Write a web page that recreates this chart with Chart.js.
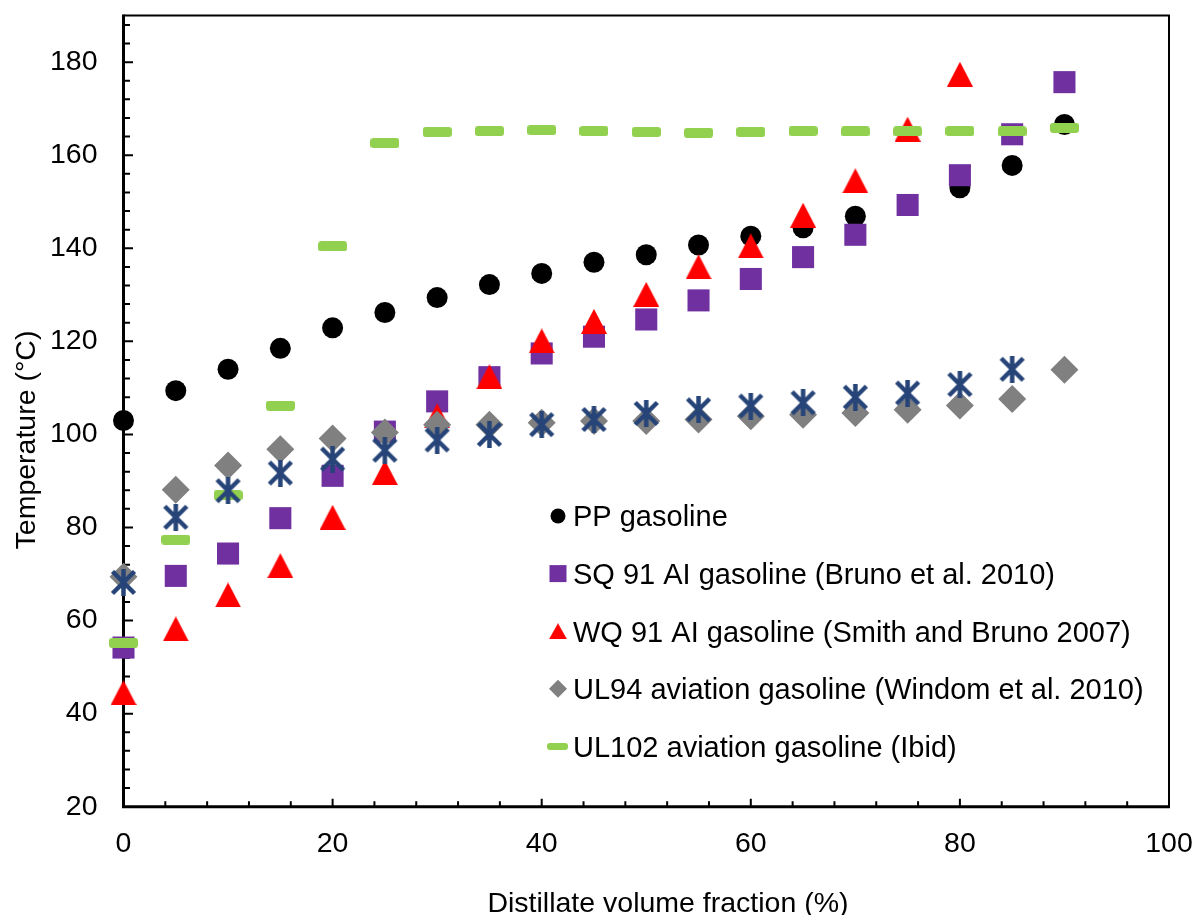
<!DOCTYPE html>
<html>
<head>
<meta charset="utf-8">
<script src="https://cdn.jsdelivr.net/npm/chart.js@4.4.1/dist/chart.umd.min.js"></script>
<style>
html,body{margin:0;padding:0;background:#fff;}
#wrap{width:1197px;height:915px;position:relative;}
</style>
</head>
<body>
<div id="wrap"><canvas id="c" width="1197" height="915"></canvas></div>
<script>
// ---------- data ----------
const xFractions = [0,5,10,15,20,25,30,35,40,45,50,55,60,65,70,75,80,85,90];
const ppGasoline = [103.0,109.4,114.0,118.5,122.9,126.2,129.4,132.2,134.6,137.0,138.6,140.7,142.6,144.4,146.9,149.3,153.0,157.8,166.6];
const sq91Gasoline = [54.2,69.6,74.4,82.0,91.1,100.6,107.1,112.3,117.4,121.0,124.7,128.8,133.4,138.1,142.9,149.3,155.7,164.5,175.7];
const wq91Gasoline = [44.5,58.2,65.5,71.8,82.2,91.8,104.0,112.4,120.1,124.3,130.1,136.0,140.5,147.1,154.5,165.6,177.4];
const ul94Aviation = [69.4,88.1,93.3,96.8,99.1,100.4,102.1,102.1,102.5,102.9,102.9,103.2,103.9,104.2,104.6,105.3,106.2,107.6,113.9];
const ul102Aviation = [55.2,77.4,86.9,106.2,140.4,162.6,165.0,165.2,165.4,165.2,165.0,164.8,165.0,165.2,165.1,165.1,165.2,165.1,165.9];
const unlabelledSeries = [68.2,82.2,87.9,91.7,94.7,96.6,98.8,100.0,102.1,103.2,104.5,105.3,106.1,106.8,108.0,108.9,110.7,114.0];
const seriesLabels = ['PP gasoline','SQ 91 AI gasoline (Bruno et al. 2010)','WQ 91 AI gasoline (Smith and Bruno 2007)','UL94 aviation gasoline (Windom et al. 2010)','UL102 aviation gasoline (Ibid)'];
const xTickValues = [0,20,40,60,80,100];
const yTickValues = [20,40,60,80,100,120,140,160,180];
const xTitle = 'Distillate volume fraction (%)';
const yTitle = 'Temperature (°C)';

const FONT = '"Liberation Sans", Arial, Helvetica, sans-serif';
const COLORS = {pp:'#000000', sq:'#7030A0', wq:'#FF0000', ul94:'#808080', ul102:'#92D050', star:'#264478'};

function pts(xs, ys){ return ys.map((v,i)=>({x:xs[i], y:v})); }

// ---------- marker images ----------
function triangleImg(w,h,color){
  const c=document.createElement('canvas'); c.width=w; c.height=h;
  const g=c.getContext('2d'); g.fillStyle=color; g.beginPath();
  g.moveTo(w/2,0); g.lineTo(w,h); g.lineTo(0,h); g.closePath(); g.fill(); return c;
}
function dashImg(w,h,color){
  const c=document.createElement('canvas'); c.width=w; c.height=h;
  const g=c.getContext('2d'); g.fillStyle=color; g.beginPath();
  const r=Math.min(3,h/2);
  g.moveTo(r,0); g.lineTo(w-r,0); g.arcTo(w,0,w,r,r); g.lineTo(w,h-r); g.arcTo(w,h,w-r,h,r);
  g.lineTo(r,h); g.arcTo(0,h,0,h-r,r); g.lineTo(0,r); g.arcTo(0,0,r,0,r); g.closePath(); g.fill(); return c;
}
function starImg(s,color,lw){
  const c=document.createElement('canvas'); c.width=s; c.height=s;
  const g=c.getContext('2d'); g.strokeStyle=color; g.lineWidth=lw; g.lineCap='butt';
  const p=lw*0.55;
  g.beginPath();
  g.moveTo(s/2,0); g.lineTo(s/2,s);
  g.moveTo(p,p); g.lineTo(s-p,s-p);
  g.moveTo(s-p,p); g.lineTo(p,s-p);
  g.stroke(); return c;
}
const triMarker = triangleImg(26,25,COLORS.wq);
const dashMarker = dashImg(29,10,COLORS.ul102);
const starMarker = starImg(27,COLORS.star,4.5);

// ---------- plugins ----------
const axesFrame = {
  id:'axesFrame',
  beforeDatasetsDraw(chart){
    const {ctx, chartArea:{left,right,top,bottom}, scales:{x,y}} = chart;
    ctx.save();
    ctx.strokeStyle='#000';
    ctx.lineWidth=2;
    ctx.beginPath();
    for(let v=24; v<190; v+=4){
      const py=y.getPixelForValue(v);
      const len = (v%20===0)?9.5:6.5;
      ctx.moveTo(left, py); ctx.lineTo(left+len, py);
    }
    for(let v=4; v<100; v+=4){
      const px=x.getPixelForValue(v);
      const len = (v%20===0)?8:5.5;
      ctx.moveTo(px, bottom); ctx.lineTo(px, bottom-len);
    }
    ctx.stroke();
    // top + right frame
    ctx.lineWidth=2;
    ctx.beginPath();
    ctx.moveTo(left, top); ctx.lineTo(right, top); ctx.lineTo(right, bottom);
    ctx.stroke();
    // left + bottom axes
    ctx.lineWidth=3;
    ctx.beginPath();
    ctx.moveTo(left, top-1); ctx.lineTo(left, bottom); ctx.lineTo(right+1, bottom);
    ctx.stroke();
    ctx.restore();
  },
  afterDraw(chart){
    const ctx=chart.ctx;
    ctx.save();
    ctx.fillStyle='#000';
    ctx.font='28.5px '+FONT;
    ctx.textAlign='center';
    ctx.textBaseline='alphabetic';
    ctx.fillText(xTitle, 668, 911.5);
    ctx.translate(35, 440);
    ctx.rotate(-Math.PI/2);
    ctx.fillText(yTitle, 0, 0);
    ctx.restore();

    // legend
    ctx.save();
    ctx.font='29px '+FONT;
    ctx.fillStyle='#000';
    ctx.textAlign='left';
    ctx.textBaseline='alphabetic';
    const mx=558, tx=573;
    seriesLabels.forEach((lab,i)=>{
      const cy = 516 + i*57.6;
      ctx.save();
      if(i===0){ ctx.fillStyle=COLORS.pp; ctx.beginPath(); ctx.arc(mx,cy,7.5,0,Math.PI*2); ctx.fill(); }
      if(i===1){ ctx.fillStyle=COLORS.sq; ctx.fillRect(mx-8.5,cy-8.5,17,17); }
      if(i===2){ ctx.drawImage(triangleImg(18,16,COLORS.wq), mx-9, cy-8); }
      if(i===3){ ctx.fillStyle=COLORS.ul94; ctx.beginPath(); ctx.moveTo(mx-9,cy); ctx.lineTo(mx,cy-9); ctx.lineTo(mx+9,cy); ctx.lineTo(mx,cy+9); ctx.closePath(); ctx.fill(); }
      if(i===4){ ctx.drawImage(dashImg(21,7,COLORS.ul102), mx-11, cy-3.5); }
      ctx.restore();
      ctx.fillText(lab, tx, cy+10.3);
    });
    ctx.restore();
  }
};

// ---------- chart ----------
const ds = (label, xs, ys, extra) => Object.assign({
  label, data: pts(xs, ys), showLine:false, clip:false, borderWidth:0
}, extra);

new Chart(document.getElementById('c'), {
  type:'scatter',
  data:{
    datasets:[
      ds(seriesLabels[0], xFractions, ppGasoline, {order:6, pointStyle:'circle', pointRadius:10.5, backgroundColor:COLORS.pp, borderColor:COLORS.pp}),
      ds(seriesLabels[1], xFractions, sq91Gasoline, {order:5, pointStyle:'rect', pointRadius:15.6, backgroundColor:COLORS.sq, borderColor:COLORS.sq}),
      ds(seriesLabels[2], xFractions, wq91Gasoline, {order:4, pointStyle:triMarker, pointRadius:13, backgroundColor:COLORS.wq}),
      ds(seriesLabels[3], xFractions, ul94Aviation, {order:3, pointStyle:'rectRot', pointRadius:14, backgroundColor:COLORS.ul94, borderColor:COLORS.ul94}),
      ds(seriesLabels[4], xFractions, ul102Aviation, {order:2, pointStyle:dashMarker, pointRadius:14, backgroundColor:COLORS.ul102}),
      ds('Unlabelled series', xFractions, unlabelledSeries, {order:1, pointStyle:starMarker, pointRadius:13, backgroundColor:COLORS.star})
    ]
  },
  options:{
    responsive:false,
    animation:false,
    events:[],
    devicePixelRatio:1,
    layout:{padding:{left:0, top:10, right:28, bottom:0}},
    plugins:{legend:{display:false}, tooltip:{enabled:false}, title:{display:false}},
    scales:{
      x:{
        type:'linear', min:0, max:100,
        grid:{display:false, drawTicks:false}, border:{display:false},
        afterBuildTicks(s){ s.ticks = xTickValues.map(v=>({value:v})); },
        afterFit(s){ s.height = 108.3; s.paddingLeft = 0; s.paddingRight = 0; s.paddingTop = 0; s.paddingBottom = 0; },
        ticks:{color:'#000', font:{family:FONT, size:28.5}, padding:20, maxRotation:0, autoSkip:false}
      },
      y:{
        type:'linear', min:20, max:190,
        grid:{display:false, drawTicks:false}, border:{display:false},
        afterBuildTicks(s){ s.ticks = yTickValues.map(v=>({value:v})); },
        afterFit(s){ s.width = 123.5; s.paddingTop = 0; s.paddingBottom = 0; s.paddingLeft = 0; s.paddingRight = 0; },
        ticks:{color:'#000', font:{family:FONT, size:28.5}, padding:26, autoSkip:false}
      }
    }
  },
  plugins:[axesFrame]
});
</script>
</body>
</html>
